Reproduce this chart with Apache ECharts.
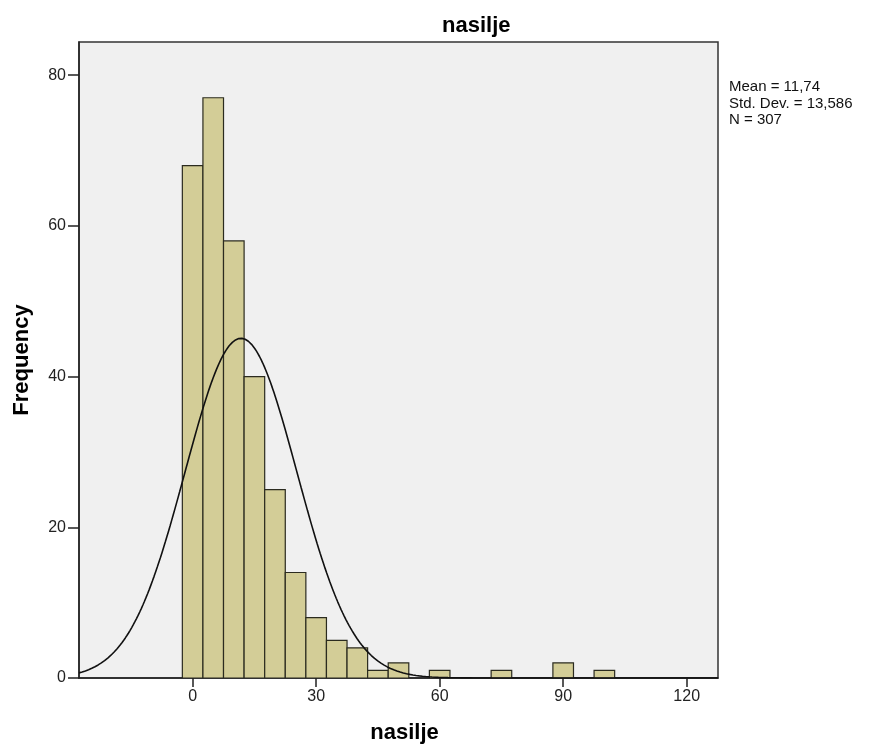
<!DOCTYPE html>
<html>
<head>
<meta charset="utf-8">
<script src="https://cdn.jsdelivr.net/npm/echarts@6/dist/echarts.min.js"></script>
<style>html,body{margin:0;padding:0;background:#fff}#c{width:872px;height:747px}</style>
</head>
<body>
<div id="c"></div>
<script>
// Histogram bins (centres) and frequencies
var binCenters = [0,5,10,15,20,25,30,35,40,45,50,55,60,65,70,75,80,85,90,95,100];
var frequencies = [68,77,58,40,25,14,8,5,4,1,2,0,1,0,0,1,0,0,2,0,1];
var binWidth = 5;
var xTicks = [0,30,60,90,120];
var yTicks = [0,20,40,60,80];
// Stated statistics
var mean = 11.74, stdDev = 13.586, n = 307;
var statsLines = ['Mean = 11,74', 'Std. Dev. = 13,586', 'N = 307'];

var xMin = -27.6, xMax = 127.6, yMax = 84.4;

// Normal curve implied by stated mean/sd, scaled to counts
var curve = [];
for (var i = 0; i <= 400; i++) {
  var x = xMin + (xMax - xMin) * i / 400;
  var z = (x - mean) / stdDev;
  curve.push([x, n * binWidth / (stdDev * Math.sqrt(2 * Math.PI)) * Math.exp(-0.5 * z * z)]);
}

var barData = binCenters.map(function (c, i) { return [c - binWidth / 2, c + binWidth / 2, frequencies[i]]; })
  .filter(function (d) { return d[2] > 0; });

var chart = echarts.init(document.getElementById('c'));
chart.setOption({
  animation: false,
  title: {
    text: 'nasilje', left: 437, top: 10,
    textStyle: { fontFamily: 'Liberation Sans, Arial', fontSize: 22, fontWeight: 'bold', color: '#000' }
  },
  graphic: [{
    type: 'text', left: 729, top: 79,
    style: { text: statsLines.join('\n'), font: '15px "Liberation Sans", Arial', fill: '#111', lineHeight: 16.5 }
  }],
  grid: {
    left: 79, right: 154, top: 42, bottom: 69, show: true,
    outerBoundsMode: 'none', containLabel: false,
    backgroundColor: '#f0f0f0', borderColor: '#333', borderWidth: 1.5
  },
  xAxis: {
    type: 'value', min: xMin, max: xMax,
    name: 'nasilje', nameLocation: 'middle', nameGap: 44,
    nameTextStyle: { fontFamily: 'Liberation Sans, Arial', fontSize: 22, fontWeight: 'bold', color: '#000', padding: [0, 0, 0, 12] },
    axisLine: { show: true, onZero: false, lineStyle: { color: '#222', width: 1.5 } },
    axisTick: { show: true, length: 9, customValues: xTicks, lineStyle: { color: '#222', width: 1.5 } },
    axisLabel: { customValues: xTicks, margin: 11, fontFamily: 'Liberation Sans, Arial', fontSize: 16, color: '#222' },
    splitLine: { show: false }
  },
  yAxis: {
    type: 'value', min: 0, max: yMax,
    name: 'Frequency', nameLocation: 'middle', nameGap: 46,
    nameTextStyle: { fontFamily: 'Liberation Sans, Arial', fontSize: 22, fontWeight: 'bold', color: '#000' },
    axisLine: { show: true, onZero: false, lineStyle: { color: '#222', width: 1.5 } },
    axisTick: { show: true, length: 11, customValues: yTicks, lineStyle: { color: '#222', width: 1.5 } },
    axisLabel: { customValues: yTicks, margin: 13, fontFamily: 'Liberation Sans, Arial', fontSize: 16, color: '#222' },
    splitLine: { show: false }
  },
  series: [{
    type: 'custom',
    data: barData,
    clip: true,
    renderItem: function (params, api) {
      var p0 = api.coord([api.value(0), api.value(2)]);
      var p1 = api.coord([api.value(1), 0]);
      return {
        type: 'rect',
        shape: { x: p0[0], y: p0[1], width: p1[0] - p0[0], height: p1[1] - p0[1] },
        style: { fill: '#d3cd97', stroke: '#2b2b1f', lineWidth: 1.2 }
      };
    }
  }, {
    type: 'line', data: curve, showSymbol: false, smooth: false, clip: true,
    lineStyle: { color: '#111', width: 1.6 }, z: 5
  }]
});
</script>
</body>
</html>
